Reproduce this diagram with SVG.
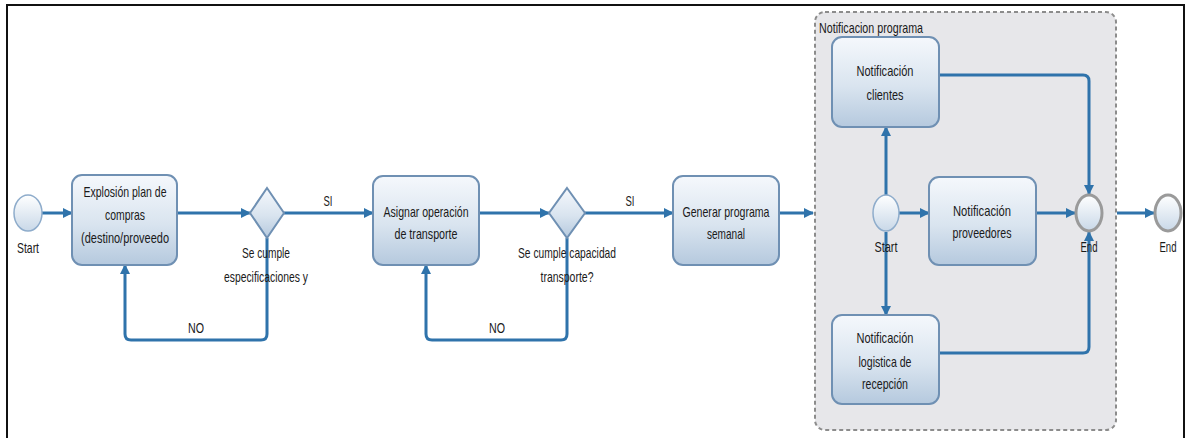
<svg xmlns="http://www.w3.org/2000/svg" width="1187" height="438" viewBox="0 0 1187 438">
  <defs>
    <linearGradient id="boxFill" x1="0" y1="0" x2="0" y2="1">
      <stop offset="0" stop-color="#f5f8fc"/>
      <stop offset="0.55" stop-color="#d9e4ef"/>
      <stop offset="1" stop-color="#b5c9de"/>
    </linearGradient>
    <linearGradient id="eventFill" x1="0" y1="0" x2="0" y2="1">
      <stop offset="0" stop-color="#ffffff"/>
      <stop offset="1" stop-color="#c9d8e8"/>
    </linearGradient>
    <marker id="arrow" viewBox="0 0 10 10" refX="9" refY="5" markerWidth="10" markerHeight="10" markerUnits="userSpaceOnUse" orient="auto">
      <path d="M0,0 L10,5 L0,10 z" fill="#2f73ab"/>
    </marker>
    <style>
      .frame { fill: none; stroke: #111; stroke-width: 2; }
      .task { fill: url(#boxFill); stroke: #6f90b3; stroke-width: 2; }
      .gate { fill: url(#boxFill); stroke: #6f90b3; stroke-width: 2; }
      .start { fill: url(#eventFill); stroke: #8eaccb; stroke-width: 1.5; }
      .end { fill: url(#eventFill); stroke: #9a9a9a; stroke-width: 3; }
      .pool { fill: #e7e7ea; stroke: #8c8c8c; stroke-width: 2; stroke-dasharray: 4 3; }
      .flow { fill: none; stroke: #2f73ab; stroke-width: 3; stroke-linejoin: round; marker-end: url(#arrow); }
      text { font-family: "Liberation Sans", Arial, sans-serif; font-size: 15px; fill: #1a1a1a; text-anchor: middle; }
      .left { text-anchor: start; }
    </style>
  </defs>

  <!-- outer frame -->
  <rect class="frame" x="7" y="5" width="1177" height="445"/>

  <!-- sub-process container -->
  <g id="subproceso">
    <rect class="pool" x="815" y="12" width="301" height="418" rx="10"/>
    <text class="left" x="819" y="33" textLength="104" lengthAdjust="spacingAndGlyphs">Notificacion programa</text>
  </g>

  <!-- connectors -->
  <g id="connectors">
    <path class="flow" d="M42,213 H72"/>
    <path class="flow" d="M177,213 H250"/>
    <path class="flow" d="M284,213 H373"/>
    <path class="flow" d="M267,238 V334 Q267,340 261,340 H131 Q125,340 125,334 V265"/>
    <path class="flow" d="M479,213 H549"/>
    <path class="flow" d="M585,213 H673"/>
    <path class="flow" d="M567,238 V334 Q567,340 561,340 H432 Q426,340 426,334 V265"/>
    <path class="flow" d="M779,213 H813"/>
    <path class="flow" d="M886,195 V127"/>
    <path class="flow" d="M886,232 V315"/>
    <path class="flow" d="M899,213 H929"/>
    <path class="flow" d="M939,75 H1083 Q1089,75 1089,81 V194"/>
    <path class="flow" d="M1036,213 H1075"/>
    <path class="flow" d="M939,353 H1083 Q1089,353 1089,347 V232"/>
    <path class="flow" d="M1117,213 H1154"/>
    <text x="328" y="206" textLength="9" lengthAdjust="spacingAndGlyphs">SI</text>
    <text x="196" y="333" textLength="16" lengthAdjust="spacingAndGlyphs">NO</text>
    <text x="630" y="206" textLength="9" lengthAdjust="spacingAndGlyphs">SI</text>
    <text x="497" y="333" textLength="16" lengthAdjust="spacingAndGlyphs">NO</text>
  </g>

  <!-- start event -->
  <g id="start">
    <ellipse class="start" cx="28" cy="213" rx="14" ry="18"/>
    <text x="28" y="253" textLength="22" lengthAdjust="spacingAndGlyphs">Start</text>
  </g>

  <g id="explosion">
    <rect class="task" x="72" y="175" width="105" height="90" rx="10"/>
    <text x="125" y="197" textLength="83" lengthAdjust="spacingAndGlyphs">Explosión plan de</text>
    <text x="125" y="220" textLength="40" lengthAdjust="spacingAndGlyphs">compras</text>
    <text x="125" y="243" textLength="88" lengthAdjust="spacingAndGlyphs">(destino/proveedo</text>
  </g>

  <g id="gate-especificaciones">
    <path class="gate" d="M267,188 L284,213 L267,238 L250,213 Z"/>
    <text x="266" y="258" textLength="48" lengthAdjust="spacingAndGlyphs">Se cumple</text>
    <text x="266" y="282" textLength="84" lengthAdjust="spacingAndGlyphs">especificaciones y</text>
  </g>

  <g id="asignar">
    <rect class="task" x="373" y="176" width="106" height="89" rx="10"/>
    <text x="426" y="217" textLength="85" lengthAdjust="spacingAndGlyphs">Asignar operación</text>
    <text x="426" y="239" textLength="63" lengthAdjust="spacingAndGlyphs">de transporte</text>
  </g>

  <g id="gate-capacidad">
    <path class="gate" d="M567,188 L585,213 L567,238 L549,213 Z"/>
    <text x="567" y="258" textLength="98" lengthAdjust="spacingAndGlyphs">Se cumple capacidad</text>
    <text x="567" y="282" textLength="53" lengthAdjust="spacingAndGlyphs">transporte?</text>
  </g>

  <g id="generar">
    <rect class="task" x="673" y="176" width="106" height="89" rx="10"/>
    <text x="726" y="217" textLength="87" lengthAdjust="spacingAndGlyphs">Generar programa</text>
    <text x="726" y="239" textLength="38" lengthAdjust="spacingAndGlyphs">semanal</text>
  </g>

  <g id="start-sub">
    <ellipse class="start" cx="886" cy="213" rx="13" ry="18"/>
    <text x="886" y="252" textLength="23" lengthAdjust="spacingAndGlyphs">Start</text>
  </g>

  <g id="clientes">
    <rect class="task" x="832" y="37" width="107" height="90" rx="10"/>
    <text x="885" y="76" textLength="57" lengthAdjust="spacingAndGlyphs">Notificación</text>
    <text x="885" y="100" textLength="37" lengthAdjust="spacingAndGlyphs">clientes</text>
  </g>

  <g id="proveedores">
    <rect class="task" x="929" y="177" width="107" height="88" rx="10"/>
    <text x="982" y="216" textLength="58" lengthAdjust="spacingAndGlyphs">Notificación</text>
    <text x="982" y="238" textLength="59" lengthAdjust="spacingAndGlyphs">proveedores</text>
  </g>

  <g id="logistica">
    <rect class="task" x="832" y="315" width="107" height="89" rx="10"/>
    <text x="885" y="343" textLength="57" lengthAdjust="spacingAndGlyphs">Notificación</text>
    <text x="885" y="367" textLength="53" lengthAdjust="spacingAndGlyphs">logistica de</text>
    <text x="885" y="389" textLength="46" lengthAdjust="spacingAndGlyphs">recepción</text>
  </g>

  <g id="end-sub">
    <ellipse class="end" cx="1089" cy="213" rx="13" ry="18"/>
    <text x="1089" y="252" textLength="17" lengthAdjust="spacingAndGlyphs">End</text>
  </g>

  <g id="end">
    <ellipse class="end" cx="1168" cy="213" rx="13" ry="18"/>
    <text x="1168" y="252" textLength="17" lengthAdjust="spacingAndGlyphs">End</text>
  </g>
</svg>
